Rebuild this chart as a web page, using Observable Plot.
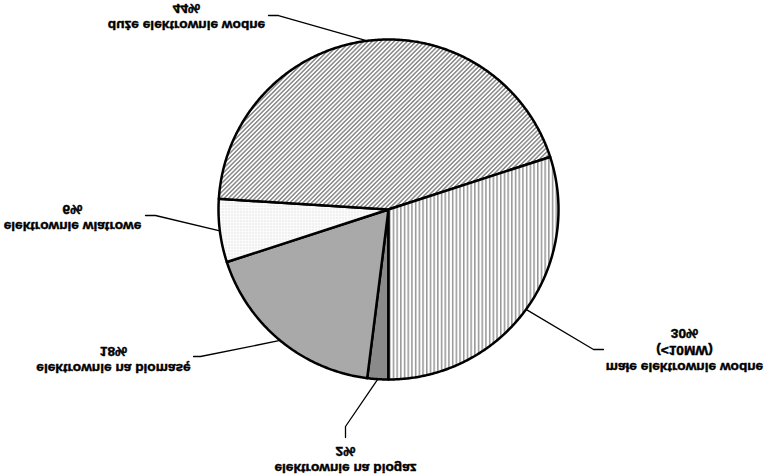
<!DOCTYPE html>
<html><head><meta charset="utf-8">
<script src="https://cdn.jsdelivr.net/npm/d3@7"></script>
<script src="https://cdn.jsdelivr.net/npm/@observablehq/plot@0.6"></script>
<style>
html,body{margin:0;padding:0;background:#fff;}
#chart svg{display:block;transform:scaleY(-1);}
</style></head><body><div id="chart"></div>
<script>
// ---- data ----
const categories = ["elektrownie na biogaz","elektrownie na biomasę","elektrownie wiatrowe","duże elektrownie wodne","małe elektrownie wodne"];
const shares = [2, 18, 6, 44, 30];
const labelNames = ["elektrownie na biogaz","elektrownie na biomasę","elektrownie wiatrowe","duże elektrownie wodne","małe elektrownie wodne\n(<10MW)"];
const percentLabels = ["2%","18%","6%","44%","30%"];

// ---- styles / layout ----
const fills = ["#8a8a8a","url(#pBiomass)","url(#pWind)","url(#pDiag)","url(#pVert)"];
const W = 767, H = 474, cx = 388, cy = 210, R = 170, startDeg = 180;
const labelPos = [[345,461],[113,361.5],[72,219],[186,18],[684,352]];
const leaderElbow = [[345,427],[200,357],[155,216],[278,16],[593,350]];
const leaderEnd = [[345,438],[193,357],[145,216],[268,16],[603,350]];

const total = d3.sum(shares);
const rad = d => d * Math.PI / 180;
const pt = (deg, r) => ({x: cx + r * Math.sin(rad(deg)), y: cy - r * Math.cos(rad(deg))});

let acc = startDeg;
const slices = shares.map((v, i) => {
  const a0 = acc, a1 = acc + v / total * 360; acc = a1;
  const pts = [{x: cx, y: cy}];
  const n = Math.max(2, Math.ceil((a1 - a0) / 0.5));
  for (let k = 0; k <= n; k++) pts.push(pt(a0 + (a1 - a0) * k / n, R));
  pts.push({x: cx, y: cy});
  return {i, a0, a1, mid: (a0 + a1) / 2, pts};
});

const leaders = slices.flatMap(s => {
  const e = pt(s.mid, R);
  return [
    {cat: s.i, x: e.x, y: e.y},
    {cat: s.i, x: leaderElbow[s.i][0], y: leaderElbow[s.i][1]},
    {cat: s.i, x: leaderEnd[s.i][0], y: leaderEnd[s.i][1]}
  ];
});

const labels = categories.map((c, i) => ({
  x: labelPos[i][0], y: labelPos[i][1],
  text: labelNames[i] + "\n" + percentLabels[i]
}));

const marks = [
  ...slices.map(s => Plot.line(s.pts, {x: "x", y: "y", fill: fills[s.i], stroke: "black", strokeWidth: 2.5, strokeLinejoin: "round", curve: "linear"})),
  Plot.line(leaders, {x: "x", y: "y", z: "cat", stroke: "black", strokeWidth: 1.3}),
  Plot.text(labels, {x: "x", y: "y", text: "text", fontSize: 13.7, fontWeight: "bold", lineHeight: 1.22, textAnchor: "middle", fill: "black", stroke: "black", strokeWidth: 0.45})
];

const svg = Plot.plot({
  width: W, height: H, margin: 0,
  x: {domain: [0, W], range: [0, W], axis: null},
  y: {domain: [0, H], range: [H, 0], axis: null},
  style: {fontFamily: "'Liberation Sans', Arial, sans-serif", background: "#fff", overflow: "visible"},
  marks
});

d3.select(svg).insert("defs", ":first-child").html(`
  <pattern id="pDiag" width="3.1" height="10" patternUnits="userSpaceOnUse" patternTransform="rotate(-45)">
    <rect width="3.1" height="10" fill="#fff"/>
    <rect x="0" y="0" width="1.5" height="10" fill="#8a8a8a"/>
  </pattern>
  <pattern id="pVert" width="3.7" height="10" patternUnits="userSpaceOnUse">
    <rect width="3.7" height="10" fill="#fff"/>
    <rect x="0" y="0" width="1.5" height="10" fill="#959595"/>
  </pattern>
  <pattern id="pBiomass" width="2" height="2" patternUnits="userSpaceOnUse">
    <rect width="2" height="2" fill="#b2b2b2"/>
    <rect width="1" height="1" fill="#8c8c8c"/>
  </pattern>
  <pattern id="pWind" width="3" height="3" patternUnits="userSpaceOnUse">
    <rect width="3" height="3" fill="#fbfbfb"/>
    <rect width="1" height="1" fill="#d0d0d0"/>
  </pattern>
`);

document.getElementById("chart").appendChild(svg);
</script>
</body></html>
